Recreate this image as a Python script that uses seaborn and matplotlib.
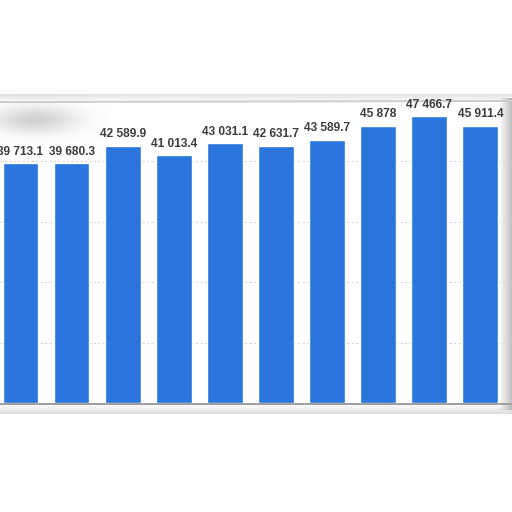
import numpy as np
import matplotlib
matplotlib.use('Agg')
from matplotlib import pyplot as plt
import seaborn as sns

# Values (last one is cut off at the right edge)
years = ['2010', '2011', '2012', '2013', '2014', '2015', '2016', '2017', '2018', '2019', '2020']
values = [39713.1, 39680.3, 42589.9, 41013.4, 43031.1, 42631.7, 43589.7, 45878, 47466.7, 45911.4, 47400]
grid_ticks = [10000, 20000, 30000, 40000, 50000]

BAR_COLOR = '#2a76dc'
LABEL_COLOR = '#3d3d3d'


def fmt(v):
    s = f'{v:,.1f}'.replace(',', ' ')
    return s[:-2] if s.endswith('.0') else s


sns.set_style('white')
plt.rcParams['font.family'] = ['Liberation Sans', 'DejaVu Sans']

fig = plt.figure(figsize=(5.12, 5.12), dpi=100)
fig.patch.set_facecolor('white')

# Overlay (below the chart) for the card's frame and shadows
ov = fig.add_axes([0, 0, 1, 1], zorder=1)
ov.set_xlim(0, 512)
ov.set_ylim(512, 0)
ov.axis('off')


def gradient(extent, a0, a1, horizontal, grey=0.45):
    n = 32
    ramp = np.linspace(a0, a1, n)
    img = np.zeros((1, n, 4)) if horizontal else np.zeros((n, 1, 4))
    img[..., :3] = grey
    img[..., 3] = ramp.reshape(img.shape[:2])
    ov.imshow(img, extent=extent, aspect='auto', interpolation='bilinear', zorder=1)


# top edge with soft shadow above
gradient((0, 512, 102, 94), 0.22, 0.0, horizontal=False)
ov.plot([0, 512], [102, 101], color='#c8c8c8', linewidth=1.4, zorder=2)
# bottom edge with shadow below
gradient((0, 512, 404, 414), 0.25, 0.0, horizontal=False)
ov.plot([0, 512], [404, 404], color='#a0a0a0', linewidth=1.5, zorder=2)
# right side shadow
gradient((499, 512, 410, 98), 0.0, 0.45, horizontal=True)

# blurred blob at the top left
yy, xx = np.mgrid[95:150, 0:110]
blob = np.exp(-(((xx - 35) / 42.0) ** 2 + ((yy - 119) / 14.0) ** 2) * 1.1)
img = np.zeros(blob.shape + (4,))
img[..., :3] = 0.55
img[..., 3] = 0.4 * blob
ov.imshow(img, extent=(0, 110, 150, 95), aspect='auto', interpolation='bilinear', zorder=1)
ov.set_xlim(0, 512)
ov.set_ylim(512, 0)

# Chart card: spans from y=101 to y=403 px, cut on both sides
ax = fig.add_axes([0, 109 / 512, 1, 302 / 512], zorder=2)
ax.patch.set_alpha(0)
sns.barplot(x=years, y=values, order=years, color=BAR_COLOR, saturation=1,
            width=0.7, ax=ax)
ax.set_xlim(-0.401, 9.62)
ax.set_ylim(0, 50000)
ax.set_yticks(grid_ticks)
ax.yaxis.grid(True, linestyle=(0, (2, 2)), color='#d6d6d6', linewidth=0.8)
ax.set_axisbelow(True)
ax.tick_params(left=False, bottom=False, labelleft=False, labelbottom=False)
ax.set_xlabel('')
ax.set_ylabel('')
for side in ('top', 'right', 'left', 'bottom'):
    ax.spines[side].set_visible(False)

ax.bar_label(ax.containers[0], labels=[fmt(v) for v in values], padding=4,
             fontsize=8.6, fontweight='bold', color=LABEL_COLOR,
             clip_on=False, annotation_clip=False)

fig.savefig('out.png', dpi=100, facecolor='white')
plt.close(fig)
